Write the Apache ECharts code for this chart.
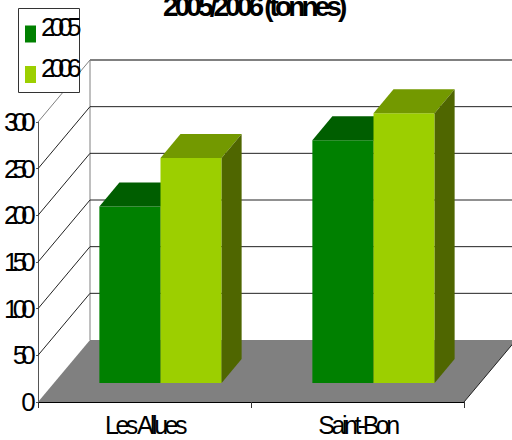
<!DOCTYPE html>
<html>
<head>
<meta charset="utf-8">
<title>2005/2006 (tonnes)</title>
<style>
html,body{margin:0;padding:0;background:#fff;}
#chart{width:512px;height:440px;}
/* le texte du graphique d'origine est tres serre */
#chart text{letter-spacing:-5.8px;}
#chart text[style*="25px"]{letter-spacing:-3.5px;}
#chart text[style*="bold"]{letter-spacing:-3.9px;}
</style>
<script src="https://cdn.jsdelivr.net/npm/echarts@6/dist/echarts.min.js"></script>
</head>
<body>
<div id="chart"></div>
<script>
var categories = ['Les Allues', 'Saint-Bon'];
var years = ['2005', '2006'];
var values2005 = [189, 260];
var values2006 = [241, 289];
var yTicks = [0, 50, 100, 150, 200, 250, 300];

// decalages de la perspective, en pixels
var WALL_DX = 52, WALL_DY = -62;
var BAR_SHIFT_DX = 16, BAR_SHIFT_DY = -19;
var BAR_DEPTH_DX = 20, BAR_DEPTH_DY = -24;
var BAR_RATIO = 0.287;

var colors2005 = {front: '#008000', top: '#005e00', side: '#004d00'};
var colors2006 = {front: '#9ccf00', top: '#739900', side: '#4f6600'};

function poly(points, fill) {
    return {type: 'polygon', shape: {points: points}, style: {fill: fill}};
}

function seg(x1, y1, x2, y2, color, width) {
    return {
        type: 'line',
        shape: {x1: x1, y1: y1, x2: x2, y2: y2},
        style: {stroke: color, lineWidth: width}
    };
}

// sol gris, mur du fond et lignes de grille
function renderWalls(params, api) {
    var v = api.value(0);
    var p = api.coord([0, v]);
    var rect = params.coordSys;
    var left = rect.x, right = rect.x + rect.width;
    var col = v === 300 ? '#808080' : '#222222';
    var children = [];
    if (v === 0) {
        children.push(poly([
            [left, p[1]], [right, p[1]],
            [right + WALL_DX, p[1] + WALL_DY], [left + WALL_DX, p[1] + WALL_DY]
        ], '#808080'));
        children.push(seg(left + WALL_DX, p[1] + WALL_DY, left + WALL_DX, rect.y + WALL_DY, '#808080', 1));
        children.push(seg(right, p[1], right + WALL_DX, p[1] + WALL_DY, '#222222', 1));
    } else {
        children.push(seg(left, p[1], left + WALL_DX, p[1] + WALL_DY, col, 1));
        children.push(seg(left + WALL_DX, p[1] + WALL_DY, right + WALL_DX, p[1] + WALL_DY, col, v === 300 ? 2 : 1));
    }
    return {type: 'group', children: children};
}

function barRenderer(seriesPos, palette) {
    return function (params, api) {
        var cat = api.value(0);
        var base = api.coord([cat, 0]);
        var top = api.coord([cat, api.value(1)]);
        var w = api.size([1, 0])[0] * BAR_RATIO;
        var x0 = base[0] + BAR_SHIFT_DX + (seriesPos - 1) * w;
        var x1 = x0 + w;
        var yb = base[1] + BAR_SHIFT_DY;
        var yt = top[1] + BAR_SHIFT_DY;
        return {type: 'group', children: [
            poly([[x0, yb], [x1, yb], [x1, yt], [x0, yt]], palette.front),
            poly([[x0, yt], [x1, yt], [x1 + BAR_DEPTH_DX, yt + BAR_DEPTH_DY], [x0 + BAR_DEPTH_DX, yt + BAR_DEPTH_DY]], palette.top),
            poly([[x1, yb], [x1 + BAR_DEPTH_DX, yb + BAR_DEPTH_DY], [x1 + BAR_DEPTH_DX, yt + BAR_DEPTH_DY], [x1, yt]], palette.side)
        ]};
    };
}

function toPairs(values) {
    return values.map(function (v, i) { return [i, v]; });
}

var chart = echarts.init(document.getElementById('chart'), null, {renderer: 'svg'});
var FONT = '"Liberation Sans", Arial, sans-serif';

chart.setOption({
    animation: false,
    backgroundColor: '#ffffff',
    title: {
        text: '2005/2006 (tonnes)',
        left: 163,
        top: -8,
        padding: 0,
        textStyle: {fontFamily: FONT, fontSize: 28, fontWeight: 'bold', color: '#000'}
    },
    legend: {
        left: 25,
        top: 14,
        padding: 0,
        orient: 'vertical',
        icon: 'rect',
        itemWidth: 11,
        itemHeight: 17,
        itemGap: 12,
        align: 'left',
        data: years,
        formatter: '{a|{name}}',
        textStyle: {
            fontFamily: FONT, fontSize: 26, color: '#000',
            rich: {a: {fontFamily: FONT, fontSize: 26, color: '#000', padding: [0, 0, 14, 0]}}
        }
    },
    graphic: [{
        type: 'rect',
        z: 3,
        shape: {x: 18.5, y: 8.5, width: 61, height: 84},
        style: {fill: '#fff', stroke: '#333', lineWidth: 1}
    }],
    grid: {left: 38, right: 48, top: 122, bottom: 38, outerBoundsMode: 'none'},
    xAxis: {
        type: 'category',
        data: categories,
        axisLine: {lineStyle: {color: '#000', width: 1}},
        axisTick: {show: true, length: 6, alignWithLabel: false, lineStyle: {color: '#333'}},
        axisLabel: {fontFamily: FONT, fontSize: 25, color: '#000', margin: 10}
    },
    yAxis: {
        type: 'value',
        min: 0,
        max: 300,
        interval: 50,
        splitLine: {show: false},
        axisLine: {show: true, lineStyle: {color: '#555', width: 1}},
        axisTick: {show: true, length: 2, lineStyle: {color: '#555'}},
        axisLabel: {fontFamily: FONT, fontSize: 26, color: '#000', margin: 8}
    },
    series: [
        {
            type: 'custom',
            name: 'walls',
            z: 1,
            silent: true,
            renderItem: renderWalls,
            encode: {y: 0},
            data: yTicks.map(function (t) { return [t]; })
        },
        {
            type: 'custom',
            name: years[0],
            z: 2,
            itemStyle: {color: colors2005.front},
            renderItem: barRenderer(0, colors2005),
            encode: {x: 0, y: 1},
            data: toPairs(values2005)
        },
        {
            type: 'custom',
            name: years[1],
            z: 2,
            itemStyle: {color: colors2006.front},
            renderItem: barRenderer(1, colors2006),
            encode: {x: 0, y: 1},
            data: toPairs(values2006)
        }
    ]
});
</script>
</body>
</html>
